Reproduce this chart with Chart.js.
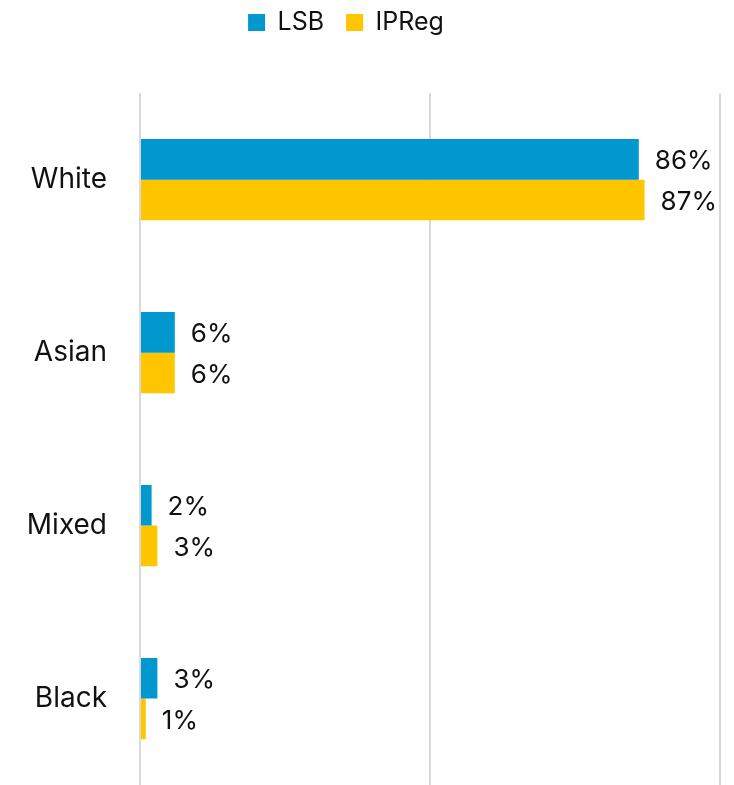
<!DOCTYPE html>
<html>
<head>
<meta charset="utf-8">
<script src="https://cdn.jsdelivr.net/npm/chart.js@4"></script>
<style>
  html, body { margin: 0; padding: 0; background: #fff; }
  #wrap { width: 734px; height: 785px; }
</style>
</head>
<body>
<div id="wrap"><canvas id="ethnicity"></canvas></div>
<script>
const categories = ["White", "Asian", "Mixed", "Black"];
const lsbValues = [86, 6, 2, 3];
const ipregValues = [87, 6, 3, 1];

const FONT = "Inter, 'Open Sans', sans-serif";

// writes "NN%" just right of each bar end
const barLabels = {
    id: "barLabels",
    afterDatasetsDraw(chart) {
        const ctx = chart.ctx;
        ctx.save();
        ctx.font = "26px " + FONT;
        ctx.fillStyle = "#111";
        ctx.textAlign = "left";
        ctx.textBaseline = "middle";
        chart.data.datasets.forEach((ds, i) => {
            chart.getDatasetMeta(i).data.forEach((bar, j) => {
                ctx.fillText(ds.data[j] + "%", bar.x + 16, bar.y + 2);
            });
        });
        ctx.restore();
    }
};

// legend sits a little left of centre in the original
const legendShift = {
    id: "legendShift",
    beforeInit(chart) {
        const draw = chart.legend.draw;
        chart.legend.draw = function () {
            const c = this.ctx;
            c.save();
            c.translate(-14, -12);
            draw.apply(this, arguments);
            c.restore();
        };
    }
};

new Chart(document.getElementById("ethnicity"), {
    type: "bar",
    data: {
        labels: categories,
        datasets: [
            { label: "LSB", data: lsbValues, backgroundColor: "#0098CF", categoryPercentage: 0.47, barPercentage: 1 },
            { label: "IPReg", data: ipregValues, backgroundColor: "#FFC600", categoryPercentage: 0.47, barPercentage: 1 }
        ]
    },
    options: {
        indexAxis: "y",
        responsive: true,
        maintainAspectRatio: false,
        animation: false,
        layout: { padding: { left: 0, right: 14, top: 0, bottom: -5 } },
        plugins: {
            legend: {
                labels: { boxWidth: 17, boxHeight: 17, padding: 22, color: "#111", font: { family: FONT, size: 25 } }
            },
            // empty title used as a spacer between legend and plot
            title: {
                display: true,
                text: " ",
                weight: 500,
                font: { size: 1 },
                padding: { top: 0, bottom: 35 }
            },
            tooltip: { enabled: false }
        },
        scales: {
            x: {
                min: 0, max: 100,
                ticks: { display: false, stepSize: 50 },
                grid: { color: "#d9d9d9", lineWidth: 2, drawTicks: false },
                border: { display: false },
                afterFit(scale) { scale.height = 0; }
            },
            y: {
                grid: { display: false, drawTicks: false },
                border: { display: false },
                ticks: { padding: 33, color: "#111", font: { family: FONT, size: 28 } },
                afterFit(scale) {
                    scale.width = 140;
                    scale.paddingTop = 0;
                    scale.paddingBottom = 0;
                }
            }
        }
    },
    plugins: [barLabels, legendShift]
});
</script>
</body>
</html>
